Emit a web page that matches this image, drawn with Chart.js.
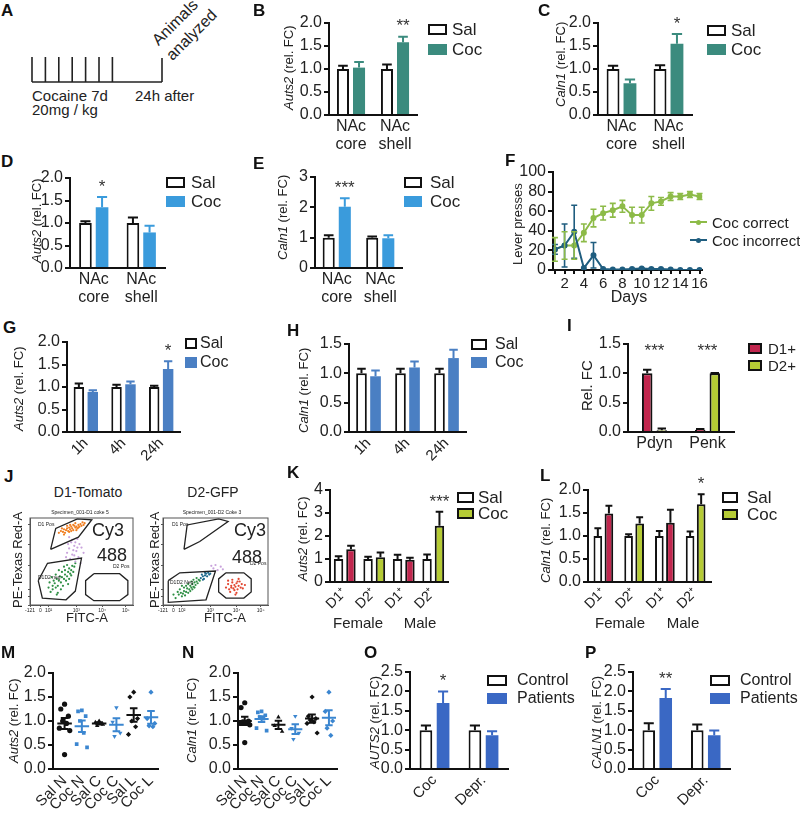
<!DOCTYPE html>
<html>
<head>
<meta charset="utf-8">
<title>Auts2 / Caln1 figure</title>
<script src="https://cdn.jsdelivr.net/npm/chart.js@4.4.1/dist/chart.umd.min.js"></script>
<style>
  html, body { margin: 0; padding: 0; background: #fff; }
  #fig { position: relative; width: 800px; height: 814px; overflow: hidden;
         font-family: "Liberation Sans", Arial, sans-serif; color: #222; }
  .p { position: absolute; }
  .t { position: absolute; white-space: nowrap; line-height: 1; }
  .box { position: absolute; box-sizing: border-box; }
</style>
</head>
<body>
<div id="fig"></div>
<script>
// ---------- data ----------
const nacCats = [['NAc', 'core'], ['NAc', 'shell']];
// B  Auts2, NAc, cocaine 7d
const bSal = [1.0, 1.0], bSalSem = [0.07, 0.1];
const bCoc = [1.03, 1.58], bCocSem = [0.12, 0.12];
const bStars = ['', '**'];
// C  Caln1, NAc
const cSal = [1.0, 1.0], cSalSem = [0.07, 0.08];
const cCoc = [0.69, 1.55], cCocSem = [0.08, 0.21];
const cStars = ['', '*'];
// D  Auts2
const dSal = [1.0, 1.0], dSalSem = [0.04, 0.12];
const dCoc = [1.35, 0.79], dCocSem = [0.23, 0.15];
const dStars = ['*', ''];
// E  Caln1
const eSal = [1.0, 1.0], eSalSem = [0.08, 0.04];
const eCoc = [2.02, 0.98], eCocSem = [0.28, 0.1];
const eStars = ['***', ''];
// F  lever presses
const days = [1, 2, 3, 4, 5, 6, 7, 8, 9, 10, 11, 12, 13, 14, 15, 16];
const fCorrect = [21, 25, 25, 38, 53, 58, 61, 65, 56, 56, 68, 70, 75, 75, 77, 75];
const fCorrectSem = [12, 14, 14, 9, 9, 7, 7, 6, 8, 8, 7, 4, 4, 3, 3, 3];
const fIncorrect = [21, 25, 39, 2, 15, 1, 0.5, 0.5, 1, 1.5, 1, 1, 0.5, 0, 0, 0];
const fIncorrectSem = [5, 22, 27, 0, 13, 0, 0, 0, 0.5, 0.5, 0.5, 0.5, 0, 0, 0, 0];
// G  Auts2 time course
const timeCats = ['1h', '4h', '24h'];
const gSal = [1.0, 1.0, 1.0], gSalSem = [0.08, 0.05, 0.03];
const gCoc = [0.89, 1.06, 1.4], gCocSem = [0.04, 0.06, 0.17];
const gStars = ['', '', '*'];
// H  Caln1 time course
const hSal = [1.0, 1.0, 1.0], hSalSem = [0.08, 0.08, 0.08];
const hCoc = [0.95, 1.1, 1.26], hCocSem = [0.1, 0.1, 0.14];
// I  sorted cells
const iCats = ['Pdyn', 'Penk'];
const iD1 = [1.0, 0.04], iD1Sem = [0.06, 0.01];
const iD2 = [0.03, 1.0], iD2Sem = [0.03, 0.005];
const iStars = ['***', '***'];
// J  FACS gates and events (FITC-A, PE-Texas Red-A, display units)
const jTickVals = [0, 10, 18, 45, 70, 93];
const jTickLbl = ['-121', '0', '10²', '10³', '10⁴', '10⁵'];
const jD1Orange = [[28,83],[30,85],[32,84],[33,87],[35,86],[36,88],[37,85],[38,89],[39,87],[40,90],[41,88],[42,86],[43,91],[44,89],[45,90],[46,88],[47,92],[48,90],[49,93],[50,91],[52,92],[34,83],[38,84],[42,92],[45,86],[31,88],[36,91],[44,94],[53,94],[40,85],[47,89],[51,95],[33,81],[39,92]];
const jD1Purple = [[40,72],[43,68],[38,65],[45,62],[41,58],[47,55],[36,60],[50,66],[44,50],[39,53],[48,70],[42,63],[46,76],[37,70],[52,60],[35,55],[49,48],[43,57],[41,75],[46,66],[38,78],[44,72]];
const jD1Green = [[20,15],[22,18],[25,20],[24,25],[27,22],[28,28],[30,26],[31,32],[33,30],[34,35],[36,33],[37,38],[38,42],[40,40],[41,45],[43,44],[39,36],[35,28],[29,33],[26,30],[23,28],[32,22],[30,18],[27,14],[36,46],[42,38],[34,40],[44,48],[25,35],[22,22],[18,20],[31,38],[38,30],[28,40],[40,34],[33,44],[26,12],[21,32],[37,24],[19,26]];
const jD2Green = [[12,8],[15,12],[17,14],[18,10],[20,16],[22,15],[23,19],[25,18],[26,22],[27,20],[28,24],[29,21],[30,26],[31,23],[32,27],[33,25],[34,29],[20,20],[24,14],[16,18],[19,13],[27,27],[30,20],[35,28],[22,22],[14,15],[26,16],[32,31],[28,18],[21,11],[10,12],[24,24],[29,29],[18,22]];
const jD2Blue = [[36,31],[38,33],[39,30],[40,34],[41,36],[42,33],[43,37],[44,35],[37,35],[40,37],[45,36],[38,29]];
const jD2Purple = [[48,42],[52,40],[55,44],[46,45],[50,46],[57,41]];
const jD2Red = [[60,20],[62,24],[63,18],[65,22],[66,26],[67,19],[68,23],[69,21],[70,25],[71,18],[72,22],[73,27],[74,20],[75,24],[64,15],[66,29],[70,14],[76,19],[62,28],[68,17],[72,30],[78,23],[65,20],[71,27],[69,12]];
const jD1PosGate = [[20,64],[25,88],[46,99],[60,98],[47,78]];
const jD1NegGate = [[8,28],[17,48],[50,54],[44,16],[35,6],[12,8]];
const jD1D2Gate = [[62,36],[87,36],[95,28],[95,12],[87,5],[62,5],[54,12],[54,28]];
const jD2PosGateD1 = [[20,64],[23,92],[53,99],[62,96],[35,73]];
const jD2NegGate = [[5,28],[16,37],[50,39],[41,6],[5,3]];
const jD2D2Gate = [[60,37],[77,37],[84,30],[84,15],[77,8],[60,8],[53,15],[53,30]];
// K  Auts2 sorted by sex
const sexCats = ['D1⁺', 'D2⁺', 'D1⁺', 'D2⁺'];
const kSal = [1.0, 1.0, 1.0, 1.0], kSalSem = [0.12, 0.1, 0.18, 0.2];
const kCoc = [1.42, 1.08, 0.97, 2.45], kCocSem = [0.16, 0.2, 0.08, 0.6];
const kStars = ['', '', '', '***'];
// L  Caln1 sorted by sex
const lSal = [1.0, 1.0, 1.0, 1.0], lSalSem = [0.17, 0.04, 0.11, 0.1];
const lCoc = [1.49, 1.27, 1.29, 1.69], lCocSem = [0.17, 0.14, 0.28, 0.22];
const lStars = ['', '', '', '*'];
// M  Auts2 per animal
const dotCats = ['Sal N', 'Coc N', 'Sal C', 'Coc C', 'Sal L', 'Coc L'];
const mSalN = [1.35, 1.25, 1.1, 1.0, 0.95, 0.85, 0.8, 0.3];
const mCocN = [1.22, 1.2, 1.1, 1.0, 0.75, 0.52, 0.45];
const mSalC = [1.0, 0.97, 0.93, 0.9];
const mCocC = [1.28, 0.98, 0.75, 0.68];
const mSalL = [1.6, 1.5, 1.05, 1.0, 0.88, 0.72];
const mCocL = [1.6, 1.05, 0.95, 0.9, 0.88];
// N  Caln1 per animal
const nSalN = [1.38, 1.28, 1.0, 0.98, 0.96, 0.95, 0.92, 0.55];
const nCocN = [1.2, 1.18, 1.12, 1.08, 1.05, 0.85, 0.8];
const nSalC = [1.08, 0.9, 0.78];
const nCocC = [1.1, 0.85, 0.75, 0.62];
const nSalL = [1.5, 1.1, 1.05, 1.02, 0.98, 0.95, 0.75];
const nCocL = [1.6, 1.2, 1.0, 0.85, 0.7];
// O / P  human tissue
const humanCats = ['Coc', 'Depr.'];
const oCtrl = [1.0, 1.0], oCtrlSem = [0.12, 0.12];
const oPat = [1.7, 0.87], oPatSem = [0.3, 0.1];
const oStars = ['*', ''];
const pCtrl = [1.0, 1.0], pCtrlSem = [0.18, 0.15];
const pPat = [1.83, 0.87], pPatSem = [0.23, 0.12];
const pStars = ['**', ''];

// ---------- colours ----------
const teal = '#3b8b7e', sky = '#3a9bdc', midBlue = '#4a7fc3';
const d1Red = '#c1264e', d2Green = '#b5cb35';
const dotBlue = '#3b86d0', humBlue = '#3a68c4';
const fGreen = '#8dbb48', fBlue = '#1f5d7f';
const ink = '#111';

// ---------- setup ----------
const fig = document.getElementById('fig');
const FONT = '"Liberation Sans", Arial, sans-serif';
Chart.defaults.font.family = FONT;
Chart.defaults.color = '#222';
Chart.defaults.animation = false;
Chart.defaults.responsive = true;
Chart.defaults.maintainAspectRatio = false;
Chart.defaults.plugins.legend.display = false;
Chart.defaults.plugins.tooltip.enabled = false;

function text(x, y, html, size, extra) {
  const d = document.createElement('div');
  d.className = 't';
  d.style.left = x + 'px';
  d.style.top = (y - size / 2) + 'px';
  d.style.fontSize = size + 'px';
  d.innerHTML = html;
  if (extra) Object.assign(d.style, extra);
  fig.appendChild(d);
  return d;
}
const ctext = (x, y, html, size) => text(x, y, html, size, {transform: 'translateX(-50%)'});
const letter = (x, y, s) => text(x, y, s, 17, {fontWeight: 'bold', color: ink});
// vertical axis title centred on (x, y), snapped to whole pixels so it stays crisp
function vtext(x, y, html, size) {
  const d = text(0, 0, html, size);
  const w = d.offsetWidth, h = d.offsetHeight;
  Object.assign(d.style, {
    left: Math.round(x - h / 2) + 'px', top: Math.round(y + w / 2) + 'px',
    transformOrigin: '0 0', transform: 'rotate(-90deg)'
  });
  return d;
}

function legend(x, y, gap, w, tx, size, items) {
  items.forEach(([label, fill, stroke], i) => {
    const cy = y + i * gap;
    const b = document.createElement('div');
    b.className = 'box';
    Object.assign(b.style, {
      left: x + 'px', top: (cy - 5.5) + 'px', width: w + 'px', height: '11px',
      background: fill, border: stroke ? '2px solid ' + stroke : 'none'
    });
    fig.appendChild(b);
    text(tx, cy, label, size);
  });
}

function canvasAt(x, y, w, h) {
  const d = document.createElement('div');
  d.className = 'p';
  Object.assign(d.style, {left: x + 'px', top: y + 'px', width: w + 'px', height: h + 'px'});
  const c = document.createElement('canvas');
  d.appendChild(c);
  fig.appendChild(d);
  return c;
}

// error bars (one-sided for bars, both sides for line points) and significance stars
const errBars = {
  id: 'errbars',
  afterDatasetsDraw(chart, args, opts) {
    const ctx = chart.ctx, ys = chart.scales.y;
    const val = (ds, j) => (typeof ds.data[j] === 'object' ? ds.data[j].y : ds.data[j]);
    ctx.save();
    chart.data.datasets.forEach((ds, i) => {
      if (!ds.err) return;
      ctx.lineWidth = ds.errWidth || 2;
      chart.getDatasetMeta(i).data.forEach((el, j) => {
        const v = val(ds, j), e = ds.err[j];
        if (!e) return;
        const top = ys.getPixelForValue(v + e);
        const bot = ys.getPixelForValue(ds.both ? Math.max(v - e, 0) : v);
        const half = ds.cap || el.width * 0.4;
        ctx.strokeStyle = ds.errColor;
        ctx.beginPath();
        ctx.moveTo(el.x, bot); ctx.lineTo(el.x, top);
        ctx.moveTo(el.x - half, top); ctx.lineTo(el.x + half, top);
        if (ds.both) { ctx.moveTo(el.x - half, bot); ctx.lineTo(el.x + half, bot); }
        ctx.stroke();
      });
    });
    if (opts && opts.stars) {
      const k = opts.starSet, ds = chart.data.datasets[k], meta = chart.getDatasetMeta(k);
      ctx.fillStyle = '#333';
      ctx.font = '17px ' + FONT;
      ctx.textAlign = 'center';
      ctx.textBaseline = 'middle';
      opts.stars.forEach((s, j) => {
        if (!s) return;
        const y = opts.starAt != null ? ys.getPixelForValue(opts.starAt)
                                      : ys.getPixelForValue(ds.data[j] + ds.err[j]) - 10;
        const x = opts.starMid ? chart.scales.x.getPixelForValue(j) : meta.data[j].x;
        ctx.fillText(s, x, y);
      });
    }
    ctx.restore();
  }
};

// mean +/- SEM lines for dot plots
const meanSem = {
  id: 'meansem',
  afterDatasetsDraw(chart) {
    const {ctx, scales: {x, y}} = chart;
    const step = x.getPixelForValue(2) - x.getPixelForValue(1);
    ctx.save();
    ctx.lineWidth = 2;
    chart.data.datasets.forEach((ds, g) => {
      const vals = ds.data.map(p => p.y), n = vals.length;
      const mean = vals.reduce((a, b) => a + b, 0) / n;
      const sd = Math.sqrt(vals.reduce((a, b) => a + (b - mean) ** 2, 0) / (n - 1));
      const sem = sd / Math.sqrt(n);
      const cx = x.getPixelForValue(g + 1), w = step * 0.42, c = step * 0.22;
      const ym = y.getPixelForValue(mean), y1 = y.getPixelForValue(mean + sem), y0 = y.getPixelForValue(mean - sem);
      ctx.strokeStyle = ds.borderColor;
      ctx.beginPath();
      ctx.moveTo(cx - w, ym); ctx.lineTo(cx + w, ym);
      ctx.moveTo(cx, y0); ctx.lineTo(cx, y1);
      ctx.moveTo(cx - c, y0); ctx.lineTo(cx + c, y0);
      ctx.moveTo(cx - c, y1); ctx.lineTo(cx + c, y1);
      ctx.stroke();
    });
    ctx.restore();
  }
};

const frame = {
  id: 'frame',
  afterDraw(chart) {
    const {ctx, chartArea: a} = chart;
    ctx.save();
    ctx.strokeStyle = '#555';
    ctx.lineWidth = 1;
    ctx.strokeRect(a.left, a.top, a.right - a.left, a.bottom - a.top);
    ctx.restore();
  }
};

function yAxis(o, padL) {
  return {
    min: 0, max: o.yMax,
    ticks: {stepSize: o.yStep, font: {size: 16}, padding: 2, autoSkip: false,
            callback: v => (o.dec === false ? v : v.toFixed(1))},
    grid: {drawOnChartArea: false, color: ink, lineWidth: 2, tickLength: 5},
    border: {color: ink, width: 2},
    afterFit: s => { s.width = padL; }
  };
}

function barPanel(o) {
  const [L, T, R, B] = o.area;
  const padL = o.padL || 50, padT = 26, padR = 4, xh = o.xh || 42;
  const cv = canvasAt(L - padL, T - padT, R - L + padL + padR, B - T + padT + xh);
  return new Chart(cv, {
    type: 'bar',
    data: {
      labels: o.cats,
      datasets: o.sets.map(s => ({
        data: s.data, err: s.err, errColor: s.errColor || s.stroke || s.fill,
        backgroundColor: s.fill, borderColor: s.stroke || s.fill,
        borderWidth: s.stroke ? 2 : 0, borderSkipped: 'bottom',
        barPercentage: o.barPct, categoryPercentage: o.catPct
      }))
    },
    options: {
      layout: {padding: {left: 0, top: padT, right: padR, bottom: 0}},
      plugins: {errbars: {stars: o.stars, starSet: o.starSet ?? 1, starAt: o.starAt, starMid: o.starMid}},
      scales: {
        x: {
          grid: {display: false, drawTicks: false},
          border: {color: ink, width: 2},
          ticks: {font: {size: o.xFont || 16, lineHeight: 1.1}, padding: o.xPad ?? 3, autoSkip: false,
                  maxRotation: o.rot || 0, minRotation: o.rot || 0},
          afterFit: s => { s.height = xh; }
        },
        y: yAxis(o, padL)
      }
    },
    plugins: [errBars]
  });
}

const spread = k => [0, -0.22, 0.22, -0.11, 0.11, -0.3, 0.3, 0][k % 8];
function dotPanel(o) {
  const [L, T, R, B] = o.area;
  const padL = 50, padT = 26, padR = 4, xh = o.xh;
  const cv = canvasAt(L - padL, T - padT, R - L + padL + padR, B - T + padT + xh);
  const datasets = o.groups.map((vals, g) => ({
    data: vals.map((v, k) => ({x: g + 1 + spread(k), y: v})),
    pointStyle: o.styles[g], rotation: o.rots[g], pointRadius: 2.6,
    backgroundColor: o.colors[g], borderColor: o.colors[g], borderWidth: 0
  }));
  return new Chart(cv, {
    type: 'scatter',
    data: {datasets},
    options: {
      layout: {padding: {left: 0, top: padT, right: padR, bottom: 0}},
      scales: {
        x: {
          min: o.xMin, max: o.xMax,
          afterBuildTicks: s => { s.ticks = o.cats.map((c, i) => ({value: i + 1})); },
          ticks: {font: {size: 15}, padding: 3, autoSkip: false, maxRotation: 45, minRotation: 45,
                  callback: v => o.cats[Math.round(v) - 1]},
          grid: {display: false, drawTicks: false},
          border: {color: ink, width: 2},
          afterFit: s => { s.height = xh; }
        },
        y: yAxis({yMax: 2, yStep: 0.5}, padL)
      }
    },
    plugins: [meanSem]
  });
}

function facsPanel(o) {
  const [L, T, R, B] = o.area;
  const padL = 8, padT = 2, padR = 2, xh = 9;
  const cv = canvasAt(L - padL, T - padT, R - L + padL + padR, B - T + padT + xh);
  const ds = [];
  o.gates.forEach(g => ds.push({
    data: g.concat([g[0]]).map(([x, y]) => ({x, y})), showLine: true,
    borderColor: '#222', borderWidth: 1.3, pointRadius: 0
  }));
  o.clouds.forEach(([pts, col]) => ds.push({
    data: pts.map(([x, y]) => ({x, y})), backgroundColor: col, borderWidth: 0, pointRadius: 1.1
  }));
  const ax = {
    min: 0, max: 100,
    afterBuildTicks: s => { s.ticks = jTickVals.map(v => ({value: v})); },
    grid: {drawOnChartArea: false, tickLength: 2, color: '#555'},
    border: {color: '#555', width: 1}
  };
  return new Chart(cv, {
    type: 'scatter',
    data: {datasets: ds},
    options: {
      layout: {padding: {left: 0, top: padT, right: padR, bottom: 0}},
      scales: {
        x: Object.assign({}, ax, {
          ticks: {font: {size: 5}, padding: 1, maxRotation: 0, autoSkip: false, callback: (v, i) => jTickLbl[i]},
          afterFit: s => { s.height = xh; }
        }),
        y: Object.assign({}, ax, {ticks: {display: false}, afterFit: s => { s.width = padL; }})
      }
    },
    plugins: [frame]
  });
}

// ---------- A: schedule ----------
(function () {
  const ns = 'http://www.w3.org/2000/svg';
  const svg = document.createElementNS(ns, 'svg');
  svg.setAttribute('width', 230); svg.setAttribute('height', 120);
  svg.setAttribute('class', 'p');
  svg.style.left = '0px'; svg.style.top = '0px';
  const line = (x1, y1, x2, y2) => {
    const l = document.createElementNS(ns, 'line');
    Object.entries({x1, y1, x2, y2, stroke: '#222', 'stroke-width': 1.6}).forEach(([k, v]) => l.setAttribute(k, v));
    svg.appendChild(l);
  };
  line(32, 82, 162, 82);
  for (let i = 0; i < 7; i++) line(32 + i * 13.4, 57, 32 + i * 13.4, 82);
  line(162, 58, 162, 82);
  fig.appendChild(svg);
  text(32, 95, 'Cocaine 7d', 15);
  text(32, 109, '20mg / kg', 15);
  text(135, 95, '24h after', 15);
  const rot = (bx, by, s) => text(bx, by - 13.6 + 8, s, 16,
    {transformOrigin: '0px 13.6px', transform: 'rotate(-45deg)'});
  rot(159, 47, 'Animals');
  rot(173, 62, 'analyzed');
})();

// ---------- bar panels ----------
barPanel({area: [329, 23, 417, 115], cats: nacCats, yMax: 2, yStep: 0.5, catPct: 0.73, barPct: 0.75,
  sets: [{data: bSal, err: bSalSem, fill: '#fff', stroke: ink}, {data: bCoc, err: bCocSem, fill: teal}],
  stars: bStars});
barPanel({area: [598, 23, 692, 115], cats: nacCats, yMax: 2, yStep: 0.5, catPct: 0.72, barPct: 0.76,
  sets: [{data: cSal, err: cSalSem, fill: '#fff', stroke: ink}, {data: cCoc, err: cCocSem, fill: teal}],
  stars: cStars});
barPanel({area: [70, 178, 165, 268], cats: nacCats, yMax: 2, yStep: 0.5, catPct: 0.7, barPct: 0.76,
  sets: [{data: dSal, err: dSalSem, fill: '#fff', stroke: ink}, {data: dCoc, err: dCocSem, fill: sky}],
  stars: dStars});
barPanel({area: [315, 177, 402, 268], cats: nacCats, yMax: 3, yStep: 1, dec: false, catPct: 0.74, barPct: 0.75,
  sets: [{data: eSal, err: eSalSem, fill: '#fff', stroke: ink}, {data: eCoc, err: eCocSem, fill: sky}],
  stars: eStars});
barPanel({area: [67, 342, 180, 432], cats: timeCats, yMax: 2, yStep: 0.5, catPct: 0.74, barPct: 0.75,
  rot: 45, xh: 34, xFont: 15,
  sets: [{data: gSal, err: gSalSem, fill: '#fff', stroke: ink}, {data: gCoc, err: gCocSem, fill: midBlue}],
  stars: gStars});
barPanel({area: [349, 344, 466, 432], cats: timeCats, yMax: 1.5, yStep: 0.5, catPct: 0.72, barPct: 0.76,
  rot: 45, xh: 34, xFont: 15,
  sets: [{data: hSal, err: hSalSem, fill: '#fff', stroke: ink}, {data: hCoc, err: hCocSem, fill: midBlue}]});
barPanel({area: [628, 344, 734, 432], cats: iCats, yMax: 1.5, yStep: 0.5, catPct: 0.55, barPct: 0.72, xh: 26,
  sets: [{data: iD1, err: iD1Sem, fill: d1Red, stroke: ink}, {data: iD2, err: iD2Sem, fill: d2Green, stroke: ink}],
  stars: iStars, starSet: 0, starAt: 1.38, starMid: true});
barPanel({area: [330, 490, 448, 582], cats: sexCats, yMax: 4, yStep: 1, dec: false, catPct: 0.84, barPct: 0.76,
  rot: 45, xh: 30, xFont: 14,
  sets: [{data: kSal, err: kSalSem, fill: '#fff', stroke: ink},
         {data: kCoc, err: kCocSem, fill: [d1Red, d2Green, d1Red, d2Green], stroke: ink}],
  stars: kStars});
barPanel({area: [588, 490, 711, 582], cats: sexCats, yMax: 2, yStep: 0.5, catPct: 0.72, barPct: 0.78,
  rot: 45, xh: 30, xFont: 14,
  sets: [{data: lSal, err: lSalSem, fill: '#fff', stroke: ink},
         {data: lCoc, err: lCocSem, fill: [d1Red, d2Green, d1Red, d2Green], stroke: ink}],
  stars: lStars});
barPanel({area: [410, 672, 508, 769], cats: humanCats, yMax: 2.5, yStep: 0.5, catPct: 0.7, barPct: 0.74,
  rot: 45, xh: 40, xFont: 15,
  sets: [{data: oCtrl, err: oCtrlSem, fill: '#fff', stroke: ink}, {data: oPat, err: oPatSem, fill: humBlue}],
  stars: oStars});
barPanel({area: [633, 672, 730, 769], cats: humanCats, yMax: 2.5, yStep: 0.5, catPct: 0.7, barPct: 0.74,
  rot: 45, xh: 40, xFont: 15,
  sets: [{data: pCtrl, err: pCtrlSem, fill: '#fff', stroke: ink}, {data: pPat, err: pPatSem, fill: humBlue}],
  stars: pStars});

// ---------- F: lever presses ----------
(function () {
  const [L, T, R, B] = [553, 172, 705, 270];
  const padL = 44, padT = 20, padR = 4, xh = 22;
  const cv = canvasAt(L - padL, T - padT, R - L + padL + padR, B - T + padT + xh);
  const series = (vals, sem, col) => ({
    data: days.map((d, i) => ({x: d, y: vals[i]})), err: sem, both: true, cap: 3, errColor: col, errWidth: 1.6,
    showLine: true, borderColor: col, backgroundColor: col, borderWidth: 2, pointRadius: 2
  });
  new Chart(cv, {
    type: 'scatter',
    data: {datasets: [series(fIncorrect, fIncorrectSem, fBlue), series(fCorrect, fCorrectSem, fGreen)]},
    options: {
      layout: {padding: {left: 0, top: padT, right: padR, bottom: 0}},
      scales: {
        x: {
          min: 0.8, max: 16.3,
          afterBuildTicks: s => { s.ticks = days.map(v => ({value: v})); },
          ticks: {font: {size: 15}, padding: 1, maxRotation: 0, autoSkip: false,
                  callback: v => (v % 2 ? '' : v)},
          grid: {drawOnChartArea: false, color: ink, lineWidth: 2, tickLength: 4},
          border: {color: ink, width: 2},
          afterFit: s => { s.height = xh; }
        },
        y: yAxis({yMax: 100, yStep: 20, dec: false}, padL)
      }
    },
    plugins: [errBars]
  });
})();

// ---------- J: FACS ----------
facsPanel({area: [30, 516, 135, 605],
  gates: [jD1PosGate, jD1NegGate, jD1D2Gate],
  clouds: [[jD1Purple, '#c9a3dc'], [jD1Green, '#2f8f45'], [jD1Orange, '#f07f22']]});
facsPanel({area: [163, 516, 270, 605],
  gates: [jD2PosGateD1, jD2NegGate, jD2D2Gate],
  clouds: [[jD2Purple, '#c9a3dc'], [jD2Green, '#2f8f45'], [jD2Blue, '#1d6a8e'], [jD2Red, '#e2452f']]});

// ---------- M / N dot plots ----------
const dotStyles = ['circle', 'rect', 'triangle', 'triangle', 'rectRot', 'rectRot'];
const dotRots = [0, 0, 0, 180, 0, 0];
const dotColors = [ink, dotBlue, ink, dotBlue, ink, dotBlue];
dotPanel({area: [53, 673, 163, 769], xMin: 0.33, xMax: 6.45, xh: 42, cats: dotCats,
  groups: [mSalN, mCocN, mSalC, mCocC, mSalL, mCocL], styles: dotStyles, rots: dotRots, colors: dotColors});
dotPanel({area: [238, 673, 341, 769], xMin: 0.6, xMax: 6.5, xh: 42, cats: dotCats,
  groups: [nSalN, nCocN, nSalC, nCocC, nSalL, nCocL], styles: dotStyles, rots: dotRots, colors: dotColors});

// ---------- text: letters, axis titles, legends ----------
[['A', 1, 10], ['B', 253, 10], ['C', 538, 10], ['D', 1, 161], ['E', 253, 163], ['F', 505, 160],
 ['G', 3, 327], ['H', 287, 330], ['I', 567, 325], ['J', 4, 476], ['K', 287, 472], ['L', 540, 475],
 ['M', 1, 652], ['N', 182, 652], ['O', 364, 652], ['P', 585, 652]].forEach(([s, x, y]) => letter(x, y, s));

vtext(288, 67, '<i>Auts2</i> (rel. FC)', 13);
vtext(560, 64, '<i>Caln1</i> (rel. FC)', 13);
vtext(36, 220, '<i>Auts2</i> (rel. FC)', 13);
vtext(282, 217, '<i>Caln1</i> (rel. FC)', 13);
vtext(517, 224, 'Lever presses', 13);
vtext(18, 388, '<i>Auts2</i> (rel. FC)', 13);
vtext(303, 390, '<i>Caln1</i> (rel. FC)', 13);
vtext(586, 385, 'Rel. FC', 15);
vtext(302, 538, '<i>Auts2</i> (rel. FC)', 13);
vtext(545, 540, '<i>Caln1</i> (rel. FC)', 13);
vtext(13, 720, '<i>Auts2</i> (rel. FC)', 13);
vtext(191, 720, '<i>Caln1</i> (rel. FC)', 13);
vtext(374, 722, '<i>AUTS2</i> (rel. FC)', 13);
vtext(596, 722, '<i>CALN1</i> (rel. FC)', 13);

ctext(629, 297, 'Days', 16);
ctext(358, 622, 'Female', 15); ctext(420, 622, 'Male', 15);
ctext(620, 622, 'Female', 15); ctext(683, 622, 'Male', 15);

legend(428, 29, 20, 19, 452, 17, [['Sal', '#fff', ink], ['Coc', teal]]);
legend(707, 30, 19, 19, 731, 17, [['Sal', '#fff', ink], ['Coc', teal]]);
legend(166, 182, 19, 19, 191, 17, [['Sal', '#fff', ink], ['Coc', sky]]);
legend(404, 182, 19, 18, 430, 17, [['Sal', '#fff', ink], ['Coc', sky]]);
legend(185, 343, 19, 12, 200, 16, [['Sal', '#fff', ink], ['Coc', midBlue]]);
legend(471, 344, 18, 16, 495, 16, [['Sal', '#fff', ink], ['Coc', midBlue]]);
legend(748, 348, 17, 14, 768, 15, [['D1+', d1Red, ink], ['D2+', d2Green, ink]]);
legend(457, 497, 16, 17, 478, 17, [['Sal', '#fff', ink], ['Coc', d2Green, ink]]);
legend(722, 497, 17, 16, 747, 17, [['Sal', '#fff', ink], ['Coc', d2Green, ink]]);
legend(487, 680, 18, 20, 517, 16, [['Control', '#fff', ink], ['Patients', humBlue]]);
legend(710, 680, 18, 20, 740, 16, [['Control', '#fff', ink], ['Patients', humBlue]]);

// F legend (line + marker)
[['Coc correct', fGreen, 222], ['Coc incorrect', fBlue, 240]].forEach(([s, col, y]) => {
  const l = document.createElement('div');
  l.className = 'box';
  Object.assign(l.style, {left: '690px', top: (y - 1) + 'px', width: '17px', height: '2px', background: col});
  fig.appendChild(l);
  const dot = document.createElement('div');
  dot.className = 'box';
  Object.assign(dot.style, {left: '696px', top: (y - 2.5) + 'px', width: '5px', height: '5px',
    borderRadius: '50%', background: col});
  fig.appendChild(dot);
  text(712, y, s, 15);
});

// J labels
ctext(88, 492, 'D1-Tomato', 14);
ctext(213, 492, 'D2-GFP', 14);
ctext(80, 512, 'Specimen_001-D1 coke 5', 5);
ctext(212, 512, 'Specimen_001-D2 Coke 3', 5);
ctext(87, 617, 'FITC-A', 13);
ctext(225, 617, 'FITC-A', 13);
vtext(17, 560, 'PE-Texas Red-A', 13);
vtext(154, 560, 'PE-Texas Red-A', 13);
text(92, 530, 'Cy3', 18);
text(97, 555, '488', 18);
text(234, 530, 'Cy3', 18);
text(232, 557, '488', 18);
text(38, 524, 'D1 Pos', 5);
text(38, 577, 'D1D2 neg', 5);
text(113, 566, 'D2 Pos', 5);
text(172, 524, 'D1 Pos', 5);
text(170, 582, 'D1D2 Neg', 5);
text(250, 563, 'D2 Pos', 5);
</script>
</body>
</html>
